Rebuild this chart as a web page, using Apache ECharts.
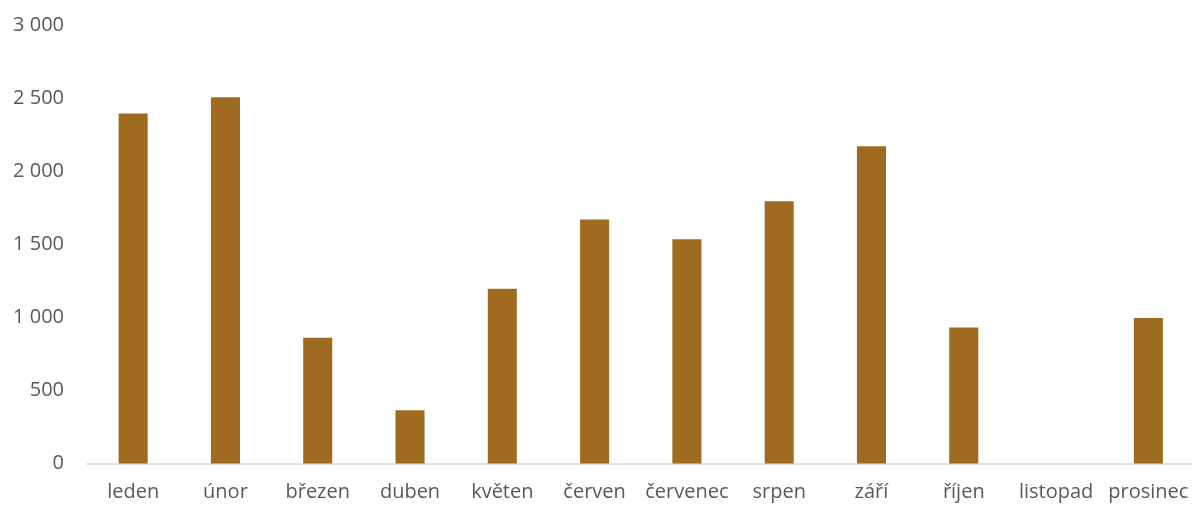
<!DOCTYPE html>
<html><head><meta charset="utf-8">
<script src="https://cdn.jsdelivr.net/npm/echarts@6/dist/echarts.min.js"></script>
<style>html,body{margin:0;padding:0;background:#fff;overflow:hidden;width:1192px;height:506px}#c{width:1200px;height:506px}</style>
</head><body><div id="c"></div>
<script>
const categories = ["leden","únor","březen","duben","květen","červen","červenec","srpen","září","říjen","listopad","prosinec"];
const values = [2395, 2505, 860, 365, 1195, 1670, 1535, 1795, 2170, 930, 0, 995];
const yMin = 0, yMax = 3000, yStep = 500;

const chart = echarts.init(document.getElementById('c'));
const fam = '"Open Sans", "Noto Sans", sans-serif';
chart.setOption({
  animation: false,
  grid: {left: 87, right: 5.5, top: 25, bottom: 42.5, containLabel: false},
  xAxis: {
    type: 'category', data: categories,
    axisLine: {show: true, lineStyle: {color: '#d9d9d9', width: 1.5}},
    axisTick: {show: false},
    axisLabel: {color: '#595959', fontSize: 20, fontFamily: fam, margin: 19, interval: 0}
  },
  yAxis: {
    type: 'value', min: yMin, max: yMax, interval: yStep,
    splitLine: {show: false},
    axisLine: {show: false}, axisTick: {show: false},
    axisLabel: {color: '#595959', fontSize: 20, fontFamily: fam, margin: 23,
      formatter: v => String(v).replace(/\B(?=(\d{3})+(?!\d))/g, ' ')}
  },
  series: [{
    type: 'bar', data: values, barWidth: '31.5%',
    itemStyle: {color: '#9e6b20'}
  }]
});
</script></body></html>
